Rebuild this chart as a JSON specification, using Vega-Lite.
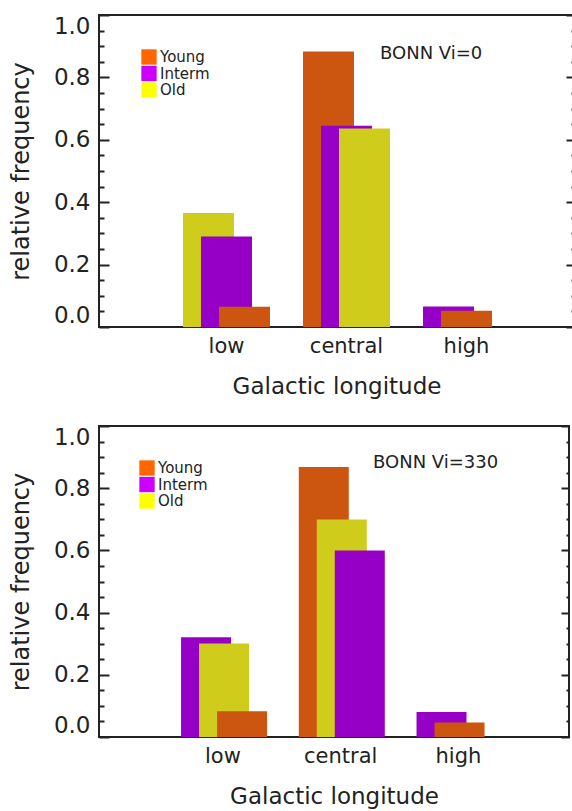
{
  "$schema": "https://vega.github.io/schema/vega-lite/v6.json",
  "padding": {"left": 8, "top": 13, "right": 0, "bottom": 0},
  "background": "white",
  "config": {
    "view": {"stroke": "#222", "strokeWidth": 2},
    "font": "DejaVu Sans"
  },
  "datasets": {
    "freq": [
      {"panel": "Vi=0", "longitude": "low", "age": "Young", "value": 0.065},
      {"panel": "Vi=0", "longitude": "low", "age": "Interm", "value": 0.29},
      {"panel": "Vi=0", "longitude": "low", "age": "Old", "value": 0.365},
      {"panel": "Vi=0", "longitude": "central", "age": "Young", "value": 0.883},
      {"panel": "Vi=0", "longitude": "central", "age": "Interm", "value": 0.645},
      {"panel": "Vi=0", "longitude": "central", "age": "Old", "value": 0.636},
      {"panel": "Vi=0", "longitude": "high", "age": "Young", "value": 0.052},
      {"panel": "Vi=0", "longitude": "high", "age": "Interm", "value": 0.066},
      {"panel": "Vi=0", "longitude": "high", "age": "Old", "value": 0},
      {"panel": "Vi=330", "longitude": "low", "age": "Young", "value": 0.083},
      {"panel": "Vi=330", "longitude": "low", "age": "Interm", "value": 0.321},
      {"panel": "Vi=330", "longitude": "low", "age": "Old", "value": 0.301},
      {"panel": "Vi=330", "longitude": "central", "age": "Young", "value": 0.868},
      {"panel": "Vi=330", "longitude": "central", "age": "Interm", "value": 0.6},
      {"panel": "Vi=330", "longitude": "central", "age": "Old", "value": 0.699},
      {"panel": "Vi=330", "longitude": "high", "age": "Young", "value": 0.047},
      {"panel": "Vi=330", "longitude": "high", "age": "Interm", "value": 0.08},
      {"panel": "Vi=330", "longitude": "high", "age": "Old", "value": 0}
    ]
  },
  "spacing": 25,
  "resolve": {"scale": {"color": "independent", "y": "independent", "x": "independent"}, "legend": {"color": "independent"}},
  "vconcat": [
    {
      "width": 475,
      "height": 312,
      "title": {"text": "BONN Vi=0", "anchor": "start", "frame": "group", "dx": 281, "dy": 58, "offset": 0, "baseline": "middle", "fontSize": 18, "font": "DejaVu Sans", "fontWeight": "normal", "color": "#222"},
      "data": {"name": "freq"},
      "transform": [
        {"filter": "datum.panel === 'Vi=0'"},
        {"window": [{"op": "rank", "as": "rank"}], "groupby": ["longitude"], "sort": [{"field": "value", "order": "descending"}]}
      ],
      "encoding": {
        "x": {"field": "longitude", "type": "nominal", "sort": ["low", "central", "high"],
          "scale": {"type": "band", "domain": ["low", "central", "high"], "paddingInner": 0, "paddingOuter": 0.479, "align": 0.587},
          "axis": {"title": "Galactic longitude", "labelAngle": 0, "ticks": false, "domain": false, "labelPadding": 8, "labelFontSize": 21, "labelFont": "DejaVu Sans", "labelColor": "#222", "titleFontSize": 23, "titleFont": "DejaVu Sans", "titleFontWeight": "normal", "titleColor": "#222", "titlePadding": 19}},
        "xOffset": {"field": "rank", "type": "quantitative", "scale": {"domain": [1, 3], "range": [42, 78]}},
        "y": {"field": "value", "type": "quantitative", "stack": null, "scale": {"domain": [0, 1], "nice": false}},
        "order": {"field": "rank", "type": "quantitative", "sort": "ascending"}
      },
      "layer": [
        {
          "mark": {"type": "bar", "width": 51},
          "encoding": {
            "fill": {"field": "age", "type": "nominal", "scale": {"domain": ["Young", "Interm", "Old"], "range": ["#cc5510", "#9600c6", "#d0cc1c"]}, "legend": null},
            "y": {"field": "value", "type": "quantitative", "stack": null, "scale": {"domain": [0, 1], "nice": false},
              "axis": {"orient": "left", "values": [0, 0.2, 0.4, 0.6, 0.8, 1.0], "format": ".1f", "tickSize": -10, "tickWidth": 2, "tickColor": "#222", "labelPadding": 19, "labelFlush": true, "labelFontSize": 23, "labelFont": "DejaVu Sans", "labelColor": "#222", "domain": false, "grid": false, "title": "relative frequency", "titleFontSize": 24, "titleFont": "DejaVu Sans", "titleFontWeight": "normal", "titleColor": "#222", "titlePadding": 20}}
          }
        },
        {
          "mark": {"type": "bar", "width": 51, "opacity": 0},
          "encoding": {
            "color": {"field": "age", "type": "nominal", "scale": {"domain": ["Young", "Interm", "Old"], "range": ["#ff6600", "#cc00ff", "#ffff00"]},
              "legend": {"orient": "none", "legendX": 42, "legendY": 34, "title": null, "symbolType": "square", "symbolSize": 235, "symbolStrokeWidth": 0, "symbolOpacity": 1, "labelFontSize": 15, "labelFont": "DejaVu Sans", "labelColor": "#222", "labelOffset": 3, "rowPadding": 0.5, "padding": 0}},
            "y": {"field": "value", "type": "quantitative", "stack": null,
              "axis": {"orient": "left", "values": [0.05, 0.1, 0.15, 0.25, 0.3, 0.35, 0.45, 0.5, 0.55, 0.65, 0.7, 0.75, 0.85, 0.9, 0.95], "tickSize": -5, "tickWidth": 2, "tickColor": "#222", "labels": false, "domain": false, "grid": false, "title": null}}
          }
        },
        {
          "mark": {"type": "bar", "width": 51, "opacity": 0},
          "encoding": {
            "y": {"field": "value", "type": "quantitative", "stack": null,
              "axis": {"orient": "right", "values": [0, 0.2, 0.4, 0.6, 0.8, 1.0], "tickSize": -8, "tickWidth": 2, "tickColor": "#222", "labels": false, "domain": false, "grid": false, "title": null}}
          }
        },
        {
          "mark": {"type": "bar", "width": 51, "opacity": 0},
          "encoding": {
            "y": {"field": "value", "type": "quantitative", "stack": null,
              "axis": {"orient": "right", "values": [0.05, 0.1, 0.15, 0.25, 0.3, 0.35, 0.45, 0.5, 0.55, 0.65, 0.7, 0.75, 0.85, 0.9, 0.95], "tickSize": -3, "tickWidth": 2, "tickColor": "#222", "labels": false, "domain": false, "grid": false, "title": null}}
          }
        }
      ],
      "resolve": {"axis": {"y": "independent"}}
    },
    {
      "width": 470,
      "height": 311,
      "title": {"text": "BONN Vi=330", "anchor": "start", "frame": "group", "dx": 274, "dy": 56, "offset": 0, "baseline": "middle", "fontSize": 18, "font": "DejaVu Sans", "fontWeight": "normal", "color": "#222"},
      "data": {"name": "freq"},
      "transform": [
        {"filter": "datum.panel === 'Vi=330'"},
        {"window": [{"op": "rank", "as": "rank"}], "groupby": ["longitude"], "sort": [{"field": "value", "order": "descending"}]}
      ],
      "encoding": {
        "x": {"field": "longitude", "type": "nominal", "sort": ["low", "central", "high"],
          "scale": {"type": "band", "domain": ["low", "central", "high"], "paddingInner": 0, "paddingOuter": 0.496, "align": 0.557},
          "axis": {"title": "Galactic longitude", "labelAngle": 0, "ticks": false, "domain": false, "labelPadding": 8, "labelFontSize": 21, "labelFont": "DejaVu Sans", "labelColor": "#222", "titleFontSize": 23, "titleFont": "DejaVu Sans", "titleFontWeight": "normal", "titleColor": "#222", "titlePadding": 19}},
        "xOffset": {"field": "rank", "type": "quantitative", "scale": {"domain": [1, 3], "range": [41.4, 76.4]}},
        "y": {"field": "value", "type": "quantitative", "stack": null, "scale": {"domain": [0, 1], "nice": false}},
        "order": {"field": "rank", "type": "quantitative", "sort": "ascending"}
      },
      "layer": [
        {
          "mark": {"type": "bar", "width": 50},
          "encoding": {
            "fill": {"field": "age", "type": "nominal", "scale": {"domain": ["Young", "Interm", "Old"], "range": ["#cc5510", "#9600c6", "#d0cc1c"]}, "legend": null},
            "y": {"field": "value", "type": "quantitative", "stack": null, "scale": {"domain": [0, 1], "nice": false},
              "axis": {"orient": "left", "values": [0, 0.2, 0.4, 0.6, 0.8, 1.0], "format": ".1f", "tickSize": -10, "tickWidth": 2, "tickColor": "#222", "labelPadding": 19, "labelFlush": true, "labelFontSize": 23, "labelFont": "DejaVu Sans", "labelColor": "#222", "domain": false, "grid": false, "title": "relative frequency", "titleFontSize": 24, "titleFont": "DejaVu Sans", "titleFontWeight": "normal", "titleColor": "#222", "titlePadding": 20}}
          }
        },
        {
          "mark": {"type": "bar", "width": 50, "opacity": 0},
          "encoding": {
            "color": {"field": "age", "type": "nominal", "scale": {"domain": ["Young", "Interm", "Old"], "range": ["#ff6600", "#cc00ff", "#ffff00"]},
              "legend": {"orient": "none", "legendX": 40, "legendY": 34, "title": null, "symbolType": "square", "symbolSize": 235, "symbolStrokeWidth": 0, "symbolOpacity": 1, "labelFontSize": 15, "labelFont": "DejaVu Sans", "labelColor": "#222", "labelOffset": 3, "rowPadding": 0.5, "padding": 0}},
            "y": {"field": "value", "type": "quantitative", "stack": null,
              "axis": {"orient": "left", "values": [0.05, 0.1, 0.15, 0.25, 0.3, 0.35, 0.45, 0.5, 0.55, 0.65, 0.7, 0.75, 0.85, 0.9, 0.95], "tickSize": -5, "tickWidth": 2, "tickColor": "#222", "labels": false, "domain": false, "grid": false, "title": null}}
          }
        },
        {
          "mark": {"type": "bar", "width": 50, "opacity": 0},
          "encoding": {
            "y": {"field": "value", "type": "quantitative", "stack": null,
              "axis": {"orient": "right", "values": [0, 0.2, 0.4, 0.6, 0.8, 1.0], "tickSize": -8, "tickWidth": 2, "tickColor": "#222", "labels": false, "domain": false, "grid": false, "title": null}}
          }
        },
        {
          "mark": {"type": "bar", "width": 50, "opacity": 0},
          "encoding": {
            "y": {"field": "value", "type": "quantitative", "stack": null,
              "axis": {"orient": "right", "values": [0.05, 0.1, 0.15, 0.25, 0.3, 0.35, 0.45, 0.5, 0.55, 0.65, 0.7, 0.75, 0.85, 0.9, 0.95], "tickSize": -3, "tickWidth": 2, "tickColor": "#222", "labels": false, "domain": false, "grid": false, "title": null}}
          }
        }
      ],
      "resolve": {"axis": {"y": "independent"}}
    }
  ]
}
